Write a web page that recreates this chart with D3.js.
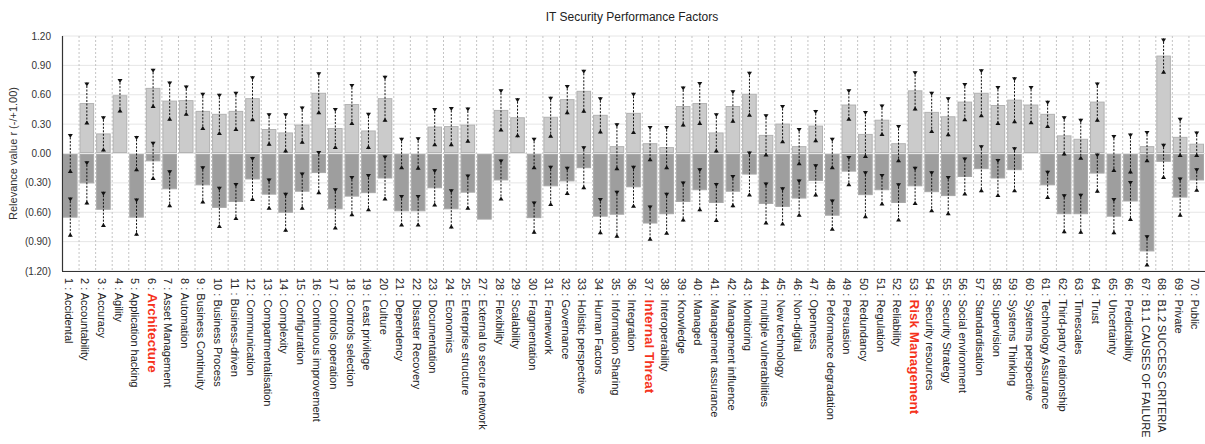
<!DOCTYPE html>
<html>
<head>
<meta charset="utf-8">
<script src="https://cdn.jsdelivr.net/npm/d3@7"></script>
<style>
  body { margin: 0; background: #fff; }
  text { font-family: "Liberation Sans", Arial, Helvetica, sans-serif; }
</style>
</head>
<body>
<div id="chart"></div>
<script>
// factor numbers (26 is missing in the source)
var ids = [1,2,3,4,5,6,7,8,9,10,11,12,13,14,15,16,17,18,19,20,21,22,23,24,25,
  27,28,29,30,31,32,33,34,35,36,37,38,39,40,41,42,43,44,45,46,47,48,49,50,
  51,52,53,54,55,56,57,58,59,60,61,62,63,64,65,66,67,68,69,70];
var names = ["Accidental","Accountability","Accuracy","Agility","Application hacking",
  "Architecture","Asset Management","Automation","Business Continuity","Business Process",
  "Business-driven","Communication","Compartmentalisation","Complexity","Configuration",
  "Continuous improvement","Controls operation","Controls selection","Least privilege","Culture",
  "Dependency","Disaster Recovery","Documentation","Economics","Enterprise structure",
  "External to secure network","Flexibility","Scalability","Fragmentation","Framework",
  "Governance","Holistic perspective","Human Factors","Information Sharing","Integration",
  "Internal Threat","Interoperability","Knowledge","Managed","Management assurance",
  "Management influence","Monitoring","multiple vulnerabilities","New technology","Non-digital",
  "Openness","Peformance degradation","Persuasion","Redundancy","Regulation",
  "Reliability","Risk Management","Security resources","Security Strategy","Social environment",
  "Standardisation","Supervision","Systems Thinking","Systems perspective","Technology Assurance",
  "Third-party relationship","Timescales","Trust","Uncertainty","Predictability",
  "B1.1 CAUSES OF FAILURE","B1.2 SUCCESS CRITERIA","Private","Public"];
var highlighted = [6, 37, 53];

// positive relevance + its error, negative relevance + its error (null = no error bar)
var posVals = [0,0.51,0.20,0.59,0,0.665,0.535,0.54,0.43,0.40,0.43,0.56,0.245,0.21,0.29,
  0.615,0.255,0.50,0.23,0.56,0,0,0.27,0.275,0.29,
  0,0.44,0.365,0,0.37,0.55,0.635,0.39,0.07,0.41,0.10,0.06,0.48,0.51,0.21,
  0.48,0.605,0.185,0.30,0.07,0.28,0,0.495,0.195,0.34,0.10,0.64,0.42,0.375,0.525,
  0.615,0.49,0.545,0.495,0.40,0.18,0.145,0.525,0,0,0.07,0.995,0.165,0.095];
var posErr = [0.20,0.215,0.18,0.17,0.18,0.20,0.20,0.155,0.19,0.21,0.20,0.23,0.165,0.20,0.19,
  0.215,0.21,0.21,0.185,0.235,0.16,0.165,0.195,0.20,0.18,
  null,0.215,0.20,0.16,0.21,0.15,0.22,0.185,0.24,0.21,0.18,0.22,0.205,0.22,0.20,
  0.165,0.23,0.215,0.195,0.19,0.165,0.16,0.16,0.24,0.16,0.19,0.20,0.21,0.20,0.195,
  0.245,0.20,0.235,0.195,0.14,0.20,0.21,0.20,0.19,0.205,0.16,0.18,0.20,0.13];
var negVals = [-0.65,-0.30,-0.57,0,-0.65,-0.075,-0.36,0,-0.32,-0.55,-0.49,-0.26,-0.415,-0.60,-0.385,
  -0.195,-0.565,-0.435,-0.40,-0.25,-0.585,-0.585,-0.35,-0.565,-0.395,
  -0.67,-0.27,0,-0.655,-0.33,-0.28,-0.145,-0.64,-0.62,-0.34,-0.71,-0.615,-0.49,-0.37,-0.50,
  -0.385,-0.21,-0.51,-0.54,-0.455,-0.275,-0.63,-0.18,-0.42,-0.37,-0.50,-0.33,-0.39,-0.43,-0.235,
  -0.155,-0.25,-0.165,0,-0.32,-0.615,-0.615,-0.20,-0.64,-0.485,-0.995,-0.08,-0.445,-0.27];
var negErr = [0.20,0.22,0.18,null,0.19,0.195,0.19,null,0.19,0.21,0.19,0.225,0.16,0.20,0.19,
  0.22,0.21,0.205,0.19,0.23,0.16,0.16,0.19,0.20,0.18,
  null,0.21,null,0.165,0.205,0.145,0.22,0.185,0.24,0.215,0.18,0.215,0.205,0.22,0.20,
  0.165,0.23,0.215,0.195,0.19,0.165,0.16,0.155,0.24,0.16,0.195,0.195,0.21,0.20,0.195,
  0.24,0.195,0.23,null,0.145,0.20,0.205,0.20,0.185,0.205,0.16,0.18,0.20,0.12];

var yTicks = [1.2, 0.9, 0.6, 0.3, 0, -0.3, -0.6, -0.9, -1.2];
var yTickLabels = ["1.20","0.90","0.60","0.30","0.00","(0.30)","(0.60)","(0.90)","(1.20)"];

var width = 1205, height = 444;
var margin = {top: 36, left: 62, right: 0, bottom: 173};

var svg = d3.select("#chart").append("svg")
    .attr("width", width)
    .attr("height", height);

var x = d3.scaleBand()
    .domain(ids)
    .range([margin.left, width - margin.right])
    .padding(0);

var y = d3.scaleLinear()
    .domain([-1.2, 1.2])
    .range([height - margin.bottom, margin.top]);

// title
svg.append("text")
    .attr("x", 632).attr("y", 21)
    .attr("text-anchor", "middle")
    .style("font-size", "12px")
    .attr("fill", "#222")
    .text("IT Security Performance Factors");

// horizontal grid
svg.append("g").selectAll("line")
    .data(yTicks)
    .enter().append("line")
    .attr("x1", margin.left).attr("x2", width)
    .attr("y1", function(d) { return y(d); })
    .attr("y2", function(d) { return y(d); })
    .attr("stroke", "#e6e6e6")
    .attr("stroke-width", 1);

// vertical dotted separators between factors
svg.append("g").selectAll("line")
    .data(ids.slice(1))
    .enter().append("line")
    .attr("x1", function(d) { return x(d) + 0.5; })
    .attr("x2", function(d) { return x(d) + 0.5; })
    .attr("y1", y(1.2)).attr("y2", y(-1.2))
    .attr("stroke", "#c4c4c4")
    .attr("stroke-dasharray", "2,2");

// y tick labels
svg.append("g").selectAll("text")
    .data(yTicks)
    .enter().append("text")
    .attr("x", 51)
    .attr("y", function(d) { return y(d) + 3.5; })
    .attr("text-anchor", "end")
    .style("font-size", "10px")
    .attr("fill", "#333")
    .text(function(d, i) { return yTickLabels[i]; });

// y axis title
svg.append("text")
    .attr("transform", "translate(17," + y(0) + ") rotate(-90)")
    .attr("text-anchor", "middle")
    .style("font-size", "11px")
    .attr("fill", "#333")
    .text("Relevance value r (-/+1.00)");

var rows = ids.map(function(id, i) {
    return {id: id, p: posVals[i], pe: posErr[i], n: negVals[i], ne: negErr[i]};
});

var bw = x.bandwidth();

// positive bars
svg.append("g").selectAll("rect")
    .data(rows.filter(function(d) { return d.p > 0; }))
    .enter().append("rect")
    .attr("x", function(d) { return x(d.id) + 1.5; })
    .attr("width", bw - 3)
    .attr("y", function(d) { return y(d.p); })
    .attr("height", function(d) { return y(0) - y(d.p) - 1; })
    .attr("fill", "#cbcbcb")
    .attr("stroke", "#b3b3b3")
    .attr("stroke-width", 1);

// negative bars
svg.append("g").selectAll("rect")
    .data(rows.filter(function(d) { return d.n < 0; }))
    .enter().append("rect")
    .attr("x", function(d) { return x(d.id) + 1.5; })
    .attr("width", bw - 3)
    .attr("y", y(0) + 1)
    .attr("height", function(d) { return y(d.n) - y(0) - 1; })
    .attr("fill", "#9e9e9e")
    .attr("stroke", "#a8a8a8")
    .attr("stroke-width", 1);

// error bars
var errs = [];
rows.forEach(function(d) {
    if (d.pe != null) errs.push({id: d.id, v: d.p, e: d.pe});
    if (d.ne != null) errs.push({id: d.id, v: d.n, e: d.ne});
});

var eg = svg.append("g").selectAll("g")
    .data(errs)
    .enter().append("g")
    .attr("transform", function(d) { return "translate(" + (x(d.id) + bw / 2) + ",0)"; });

eg.append("line")
    .attr("y1", function(d) { return y(d.v + d.e); })
    .attr("y2", function(d) { return y(d.v - d.e); })
    .attr("stroke", "#111")
    .attr("stroke-dasharray", "2,1.5");

// caps: down triangle at top, up triangle at bottom
eg.append("path")
    .attr("d", function(d) {
        var t = y(d.v + d.e);
        return "M-2.5," + t + "L2.5," + t + "L0," + (t + 4) + "Z";
    })
    .attr("fill", "#111");
eg.append("path")
    .attr("d", function(d) {
        var b = y(d.v - d.e);
        return "M-2.5," + b + "L2.5," + b + "L0," + (b - 4) + "Z";
    })
    .attr("fill", "#111");

// axes lines
svg.append("line")
    .attr("x1", margin.left + 0.5).attr("x2", margin.left + 0.5)
    .attr("y1", y(1.2)).attr("y2", y(-1.2))
    .attr("stroke", "#333").attr("stroke-width", 1.2);
svg.append("line")
    .attr("x1", margin.left).attr("x2", width)
    .attr("y1", y(-1.2) + 0.5).attr("y2", y(-1.2) + 0.5)
    .attr("stroke", "#333").attr("stroke-width", 1.2);

// rotated category labels
var lab = svg.append("g").selectAll("text")
    .data(ids)
    .enter().append("text")
    .attr("transform", function(d) {
        return "translate(" + (x(d) + bw / 2 - 1.5) + "," + (y(-1.2) + 7) + ") rotate(90)";
    })
    .attr("dy", "0.35em")
    .style("font-size", "11px")
    .attr("fill", "#222");

lab.append("tspan")
    .text(function(d) { return d + " : "; });
lab.append("tspan")
    .style("font-size", function(d) { return highlighted.indexOf(d) >= 0 ? "13.5px" : null; })
    .style("font-weight", function(d) { return highlighted.indexOf(d) >= 0 ? "bold" : null; })
    .attr("fill", function(d) { return highlighted.indexOf(d) >= 0 ? "#f5321c" : null; })
    .text(function(d, i) { return names[i]; });
</script>
</body>
</html>
